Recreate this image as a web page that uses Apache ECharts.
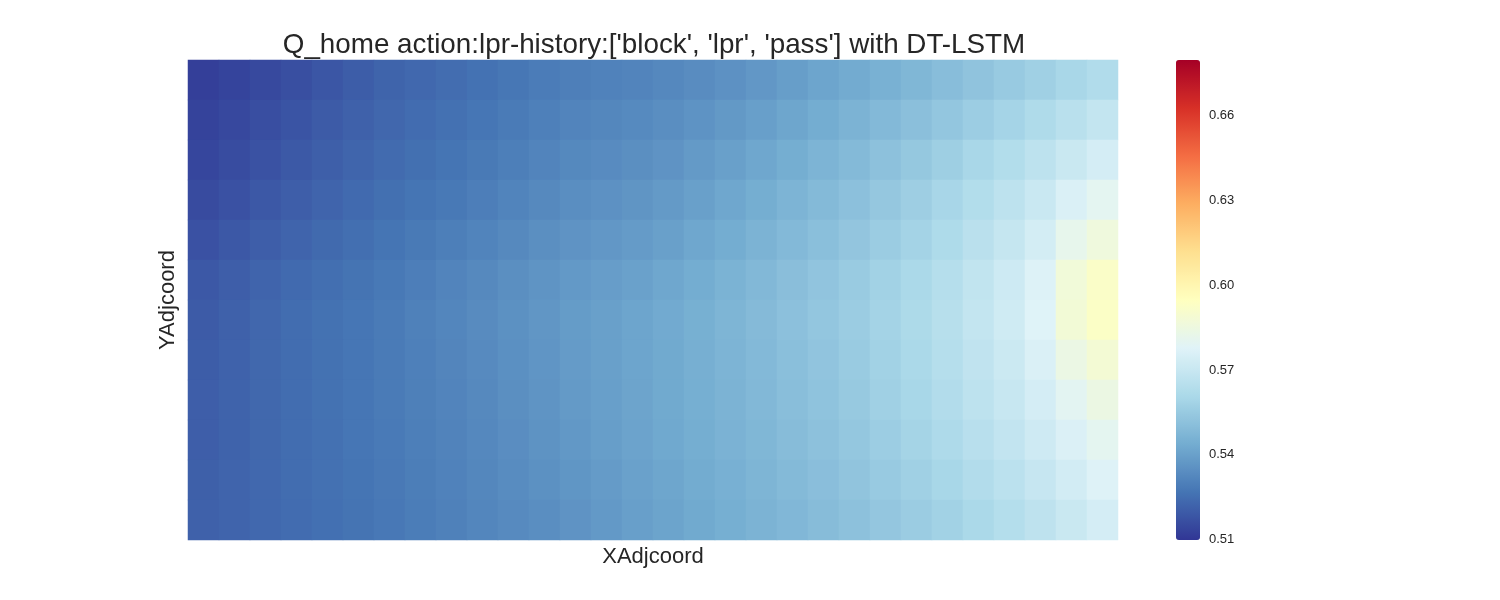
<!DOCTYPE html>
<html>
<head>
<meta charset="utf-8">
<script src="https://cdn.jsdelivr.net/npm/echarts@6/dist/echarts.min.js"></script>
<style>html,body{margin:0;padding:0;background:#fff}#c{width:1500px;height:600px}</style>
</head>
<body>
<div id="c"></div>
<script>
// Column (XAdjcoord) and row (YAdjcoord) bins, rows listed top to bottom
const xBins = Array.from({length: 30}, (_, i) => 'x' + i);
const yBins = Array.from({length: 12}, (_, j) => 'y' + j);

// Estimated Q_home values per row (top row first)
const row0  = [0.5122,0.5136,0.5150,0.5166,0.5186,0.5205,0.5222,0.5235,0.5248,0.5262,0.5276,0.5290,0.5300,0.5308,0.5315,0.5326,0.5340,0.5354,0.5372,0.5393,0.5413,0.5434,0.5455,0.5476,0.5500,0.5524,0.5549,0.5575,0.5601,0.5627];
const row1  = [0.5133,0.5148,0.5163,0.5179,0.5198,0.5216,0.5232,0.5245,0.5258,0.5273,0.5288,0.5303,0.5314,0.5323,0.5331,0.5344,0.5360,0.5377,0.5396,0.5418,0.5439,0.5462,0.5485,0.5509,0.5535,0.5563,0.5591,0.5621,0.5653,0.5684];
const row2  = [0.5143,0.5159,0.5175,0.5192,0.5209,0.5227,0.5242,0.5255,0.5268,0.5283,0.5299,0.5315,0.5328,0.5337,0.5347,0.5361,0.5380,0.5399,0.5420,0.5442,0.5465,0.5489,0.5515,0.5541,0.5569,0.5601,0.5632,0.5667,0.5704,0.5741];
const row3  = [0.5156,0.5173,0.5190,0.5206,0.5223,0.5239,0.5254,0.5268,0.5281,0.5296,0.5313,0.5330,0.5344,0.5354,0.5365,0.5380,0.5400,0.5420,0.5442,0.5465,0.5488,0.5513,0.5540,0.5567,0.5598,0.5632,0.5666,0.5706,0.5758,0.5800];
const row4  = [0.5173,0.5190,0.5207,0.5223,0.5238,0.5253,0.5268,0.5283,0.5298,0.5313,0.5330,0.5347,0.5361,0.5373,0.5384,0.5400,0.5420,0.5440,0.5462,0.5485,0.5508,0.5533,0.5560,0.5587,0.5619,0.5655,0.5692,0.5738,0.5815,0.5860];
const row5  = [0.5190,0.5207,0.5224,0.5239,0.5252,0.5266,0.5281,0.5297,0.5314,0.5330,0.5347,0.5364,0.5378,0.5391,0.5403,0.5420,0.5440,0.5460,0.5482,0.5505,0.5528,0.5553,0.5580,0.5607,0.5639,0.5678,0.5717,0.5769,0.5872,0.5920];
const row6  = [0.5200,0.5216,0.5232,0.5247,0.5260,0.5273,0.5288,0.5304,0.5320,0.5336,0.5353,0.5370,0.5386,0.5399,0.5413,0.5430,0.5449,0.5469,0.5490,0.5513,0.5535,0.5560,0.5587,0.5614,0.5646,0.5685,0.5724,0.5776,0.5879,0.5928];
const row7  = [0.5203,0.5218,0.5233,0.5247,0.5260,0.5273,0.5288,0.5303,0.5318,0.5333,0.5350,0.5367,0.5383,0.5398,0.5413,0.5429,0.5448,0.5466,0.5486,0.5508,0.5529,0.5553,0.5580,0.5607,0.5639,0.5675,0.5712,0.5759,0.5838,0.5884];
const row8  = [0.5206,0.5219,0.5233,0.5247,0.5260,0.5273,0.5287,0.5301,0.5315,0.5330,0.5347,0.5364,0.5380,0.5396,0.5412,0.5428,0.5446,0.5463,0.5482,0.5503,0.5523,0.5546,0.5573,0.5600,0.5631,0.5665,0.5699,0.5741,0.5796,0.5840];
const row9  = [0.5208,0.5221,0.5233,0.5247,0.5259,0.5272,0.5285,0.5298,0.5311,0.5326,0.5343,0.5359,0.5375,0.5392,0.5409,0.5425,0.5442,0.5459,0.5476,0.5496,0.5515,0.5538,0.5563,0.5589,0.5618,0.5650,0.5682,0.5720,0.5761,0.5802];
const row10 = [0.5211,0.5223,0.5234,0.5246,0.5258,0.5269,0.5282,0.5295,0.5308,0.5323,0.5338,0.5353,0.5368,0.5385,0.5402,0.5418,0.5435,0.5452,0.5469,0.5488,0.5506,0.5527,0.5550,0.5574,0.5600,0.5630,0.5660,0.5695,0.5733,0.5771];
const row11 = [0.5214,0.5224,0.5235,0.5245,0.5256,0.5266,0.5279,0.5292,0.5305,0.5319,0.5333,0.5346,0.5361,0.5378,0.5395,0.5411,0.5428,0.5445,0.5462,0.5479,0.5497,0.5516,0.5537,0.5558,0.5582,0.5610,0.5638,0.5670,0.5704,0.5739];
const rows = [row0,row1,row2,row3,row4,row5,row6,row7,row8,row9,row10,row11];

// Colour bar range and tick labels
const cbarMin = 0.5099;
const cbarMax = 0.6797;
const cbarTicks = [0.51, 0.54, 0.57, 0.60, 0.63, 0.66];
const rdylbuR = ['#313695','#4575b4','#74add1','#abd9e9','#e0f3f8','#ffffbf','#fee090','#fdae61','#f46d43','#d73027','#a50026'];

const data = [];
rows.forEach((r, j) => r.forEach((v, i) => data.push([i, j, v])));

const chart = echarts.init(document.getElementById('c'), null, {renderer: 'canvas'});
const txt = '#262626';
const font = 'Liberation Sans, Arial, sans-serif';
chart.setOption({
  animation: false,
  backgroundColor: '#ffffff',
  title: {
    text: "Q_home action:lpr-history:['block', 'lpr', 'pass'] with DT-LSTM",
    left: 654, top: 31, textAlign: 'center', padding: 0,
    textStyle: {fontFamily: font, fontSize: 27.8, fontWeight: 'normal', color: txt}
  },
  grid: [
    {left: 188, top: 60, width: 930, height: 480},
    {left: 1176, top: 60, width: 24, height: 480}
  ],
  xAxis: [
    {type: 'category', data: xBins, gridIndex: 0, name: 'XAdjcoord', nameLocation: 'middle', nameGap: 6,
     nameTextStyle: {fontFamily: font, fontSize: 22, color: txt},
     axisLine: {show: false}, axisTick: {show: false}, axisLabel: {show: false}, splitLine: {show: false}},
    {type: 'value', gridIndex: 1, show: false, min: 0, max: 1}
  ],
  yAxis: [
    {type: 'category', data: yBins, gridIndex: 0, inverse: true, name: 'YAdjcoord', nameLocation: 'middle', nameGap: 9,
     nameTextStyle: {fontFamily: font, fontSize: 22, color: txt},
     axisLine: {show: false}, axisTick: {show: false}, axisLabel: {show: false}, splitLine: {show: false}},
    {type: 'value', gridIndex: 1, position: 'right', min: cbarMin, max: cbarMax,
     axisLine: {show: false}, axisTick: {show: false}, splitLine: {show: false},
     axisLabel: {customValues: cbarTicks, margin: 9, fontFamily: font, fontSize: 13, color: txt,
                 formatter: v => v.toFixed(2)}}
  ],
  visualMap: {
    type: 'continuous', min: cbarMin, max: cbarMax, calculable: false, realtime: false,
    orient: 'vertical', left: 1176, top: 60, itemWidth: 24, itemHeight: 480, padding: 0,
    text: null, showLabel: false, seriesIndex: 0,
    inRange: {color: rdylbuR}
  },
  series: [{
    type: 'heatmap', xAxisIndex: 0, yAxisIndex: 0, data: data,
    itemStyle: {borderWidth: 0}, emphasis: {disabled: true}
  }]
});
</script>
</body>
</html>
